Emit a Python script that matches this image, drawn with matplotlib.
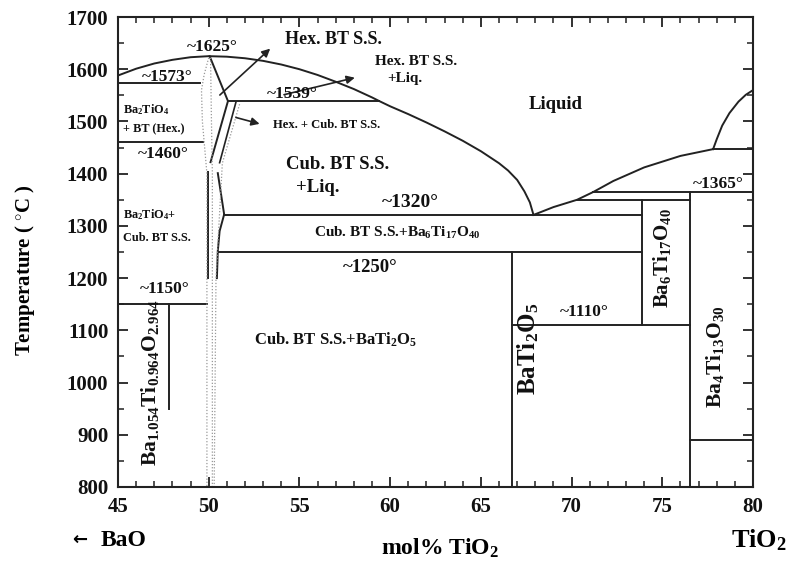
import matplotlib
matplotlib.use("Agg")
import matplotlib.pyplot as plt
from matplotlib.ticker import MultipleLocator

plt.rcParams['font.family'] = ['Liberation Serif', 'DejaVu Serif']
plt.rcParams['font.weight'] = 'bold'
plt.rcParams['mathtext.fontset'] = 'custom'
plt.rcParams['mathtext.rm'] = 'Liberation Serif:bold'
plt.rcParams['mathtext.it'] = 'Liberation Serif:bold'
plt.rcParams['mathtext.bf'] = 'Liberation Serif:bold'
plt.rcParams['mathtext.default'] = 'rm'

# ---------------- data (mol% TiO2, temperature in deg C) ----------------
liq_left_x = [45, 46, 47, 48, 49, 50, 51, 52, 53, 54, 55, 56, 57, 58, 59, 59.4,
              60, 61, 62, 63, 64, 65, 66, 66.5, 67, 67.4, 67.7, 67.9]
liq_left_T = [1588, 1601, 1611, 1618, 1623, 1625, 1624, 1621, 1616, 1609, 1600,
              1589, 1576, 1562, 1546, 1539, 1529, 1514, 1498, 1481, 1463, 1443,
              1420, 1406, 1388, 1366, 1345, 1321]
liq_right_x = [67.9, 69, 70.3, 71.2, 72.3, 74, 76, 77.8]
liq_right_T = [1321, 1336, 1350, 1365, 1386, 1412, 1434, 1447]
tio2_x = [77.8, 78.0, 78.3, 78.7, 79.2, 79.6, 80]
tio2_T = [1447, 1466, 1492, 1516, 1538, 1551, 1560]

# invariant (horizontal) lines: temperature, x start, x end
iso_T = [1573, 1460, 1150, 1539, 1320, 1250, 1350, 1365, 1447, 1110, 890]
iso_x0 = [45, 45, 45, 51.06, 50.85, 50.55, 70.3, 71.2, 77.8, 66.7, 76.5]
iso_x1 = [49.5, 49.7, 49.9, 59.4, 73.9, 73.9, 76.5, 80, 80, 76.5, 80]

# compound (vertical) lines: composition, T bottom, T top
vert_x = [47.8, 66.7, 73.9, 76.5]
vert_T0 = [950, 800, 1110, 800]
vert_T1 = [1150, 1250, 1350, 1365]

# BT solid-solution boundaries
ss_a_x = [50.05, 51.06, 50.1]
ss_a_T = [1625, 1539, 1422]
ss_b_x = [51.5, 50.6]
ss_b_T = [1537, 1421]
ss_c_x = [49.95, 49.95]
ss_c_T = [1403, 1200]
ss_d_x = [50.5, 50.85, 50.6, 50.5, 50.45]
ss_d_T = [1401, 1322, 1290, 1252, 1200]

dot1_x = [50.0, 49.75, 49.6, 49.65, 49.8, 49.9, 49.9]
dot1_T = [1622, 1590, 1560, 1500, 1440, 1400, 800]
dot2_x = [50.1, 50.15, 50.2, 50.2]
dot2_T = [1622, 1500, 1400, 800]
dot3_x = [51.7, 50.75, 50.4, 50.3]
dot3_T = [1533, 1420, 1200, 800]

x_ticks = [45, 50, 55, 60, 65, 70, 75, 80]
y_ticks = [800, 900, 1000, 1100, 1200, 1300, 1400, 1500, 1600, 1700]

# ---------------- figure ----------------
fig = plt.figure(figsize=(7.91, 5.63), dpi=100)
ax = fig.add_axes([0.1492, 0.135, 0.8028, 0.8348])
ax.set_xlim(45, 80)
ax.set_ylim(800, 1700)

lc = '#222222'
lw = 1.4
ax.plot(liq_left_x, liq_left_T, color=lc, lw=lw)
ax.plot(liq_right_x, liq_right_T, color=lc, lw=lw)
ax.plot(tio2_x, tio2_T, color=lc, lw=lw)
for T, a, b in zip(iso_T, iso_x0, iso_x1):
    ax.plot([a, b], [T, T], color=lc, lw=lw)
for x, t0, t1 in zip(vert_x, vert_T0, vert_T1):
    ax.plot([x, x], [t0, t1], color=lc, lw=lw)
ax.plot(ss_a_x, ss_a_T, color=lc, lw=lw)
ax.plot(ss_b_x, ss_b_T, color=lc, lw=1.2)
ax.plot(ss_c_x, ss_c_T, color=lc, lw=lw)
ax.plot(ss_d_x, ss_d_T, color=lc, lw=lw)
for xs, ts in [(dot1_x, dot1_T), (dot2_x, dot2_T), (dot3_x, dot3_T)]:
    ax.plot(xs, ts, color='#999999', lw=0.9, ls=(0, (1, 1.5)))

# arrows
arr = dict(arrowstyle='-|>', color=lc, lw=1.2, mutation_scale=12)
ax.annotate('', xy=(53.5, 1643), xytext=(50.5, 1547), arrowprops=arr)
ax.annotate('', xy=(58.2, 1585), xytext=(54.0, 1550), arrowprops=arr)
ax.annotate('', xy=(52.95, 1494), xytext=(51.35, 1509), arrowprops=arr)

# labels
fs_big = 12.5
fs_mid = 11
fs_small = 8.8
txt = dict(ha='center', va='center', fontweight='bold', color='#111111')
ax.text(50.2, 1643, '~1625°', fontsize=fs_big, **txt)
ax.text(47.7, 1586, '~1573°', fontsize=fs_big, **txt)
ax.text(45.3, 1523, 'Ba$_2$TiO$_4$', fontsize=fs_small, **dict(txt, ha='left'))
ax.text(45.3, 1485, '+ BT (Hex.)', fontsize=fs_small, **dict(txt, ha='left'))
ax.text(47.5, 1437, '~1460°', fontsize=fs_big, **txt)
ax.text(45.3, 1321, 'Ba$_2$TiO$_4$+', fontsize=fs_small, **dict(txt, ha='left'))
ax.text(45.3, 1277, 'Cub. BT S.S.', fontsize=fs_small, **dict(txt, ha='left'))
ax.text(47.6, 1180, '~1150°', fontsize=fs_big, **txt)
ax.text(56.9, 1656, 'Hex. BT S.S.', fontsize=13, **txt)
ax.text(61.4, 1614, 'Hex. BT S.S.', fontsize=fs_mid, **txt)
ax.text(60.8, 1582, '+Liq.', fontsize=fs_mid, **txt)
ax.text(54.6, 1553, '~1539°', fontsize=fs_big, **txt)
ax.text(56.5, 1493, 'Hex. + Cub. BT S.S.', fontsize=fs_small + 0.3, **txt)
ax.text(69.1, 1532, 'Liquid', fontsize=fs_big + 1, **txt)
ax.text(57.1, 1418, 'Cub. BT S.S.', fontsize=fs_big + 1, **txt)
ax.text(56.0, 1374, '+Liq.', fontsize=fs_big + 1, **txt)
ax.text(61.1, 1344, '~1320°', fontsize=fs_big + 1.5, **txt)
ax.text(60.4, 1287, 'Cub. BT S.S.+Ba$_6$Ti$_{17}$O$_{40}$', fontsize=fs_mid, **txt)
ax.text(58.9, 1221, '~1250°', fontsize=fs_big + 1, **txt)
ax.text(57.0, 1082, 'Cub. BT S.S.+BaTi$_2$O$_5$', fontsize=fs_mid + 1, **txt)
ax.text(70.7, 1135, '~1110°', fontsize=fs_big, **txt)
ax.text(78.1, 1380, '~1365°', fontsize=fs_big, **txt)
ax.text(75.0, 1238, 'Ba$_6$Ti$_{17}$O$_{40}$', fontsize=15, rotation=90, **txt)
ax.text(77.9, 1050, 'Ba$_4$Ti$_{13}$O$_{30}$', fontsize=15.5, rotation=90, **txt)
ax.text(67.6, 1065, 'BaTi$_2$O$_5$', fontsize=18, rotation=90, **txt)
ax.text(46.75, 1000, 'Ba$_{1.054}$Ti$_{0.964}$O$_{2.964}$', fontsize=fs_big + 3,
        rotation=90, **txt)

# axes styling
for sp in ax.spines.values():
    sp.set_linewidth(1.5)
    sp.set_color(lc)
ax.set_xticks(x_ticks)
ax.set_yticks(y_ticks)
ax.xaxis.set_minor_locator(MultipleLocator(1))
ax.yaxis.set_minor_locator(MultipleLocator(50))
ax.tick_params(which='both', direction='in', top=True, right=True, colors=lc,
               labelcolor='#111111', labelsize=15)
ax.tick_params(which='major', length=7, width=1.3, pad=7)
ax.tick_params(which='minor', length=4, width=1.1)
for lab in ax.get_xticklabels() + ax.get_yticklabels():
    lab.set_fontweight('bold')

fig.text(25 / 791, 1 - 270 / 563, 'Temperature ( $^{\\circ}$C )', fontsize=15,
         fontweight='bold', rotation=90, ha='center', va='center')
fig.text(440 / 791, 1 - 548 / 563, 'mol% TiO$_2$', fontsize=17, fontweight='bold',
         ha='center', va='center')
fig.text(80 / 791, 1 - 540 / 563, '←', fontsize=13, fontweight='bold',
         ha='center', va='center', family=['DejaVu Sans'])
fig.text(124 / 791, 1 - 540 / 563, 'BaO', fontsize=17, fontweight='bold',
         ha='center', va='center')
fig.text(759 / 791, 1 - 540 / 563, 'TiO$_2$', fontsize=19, fontweight='bold',
         ha='center', va='center')

fig.savefig('out.png', dpi=100)
